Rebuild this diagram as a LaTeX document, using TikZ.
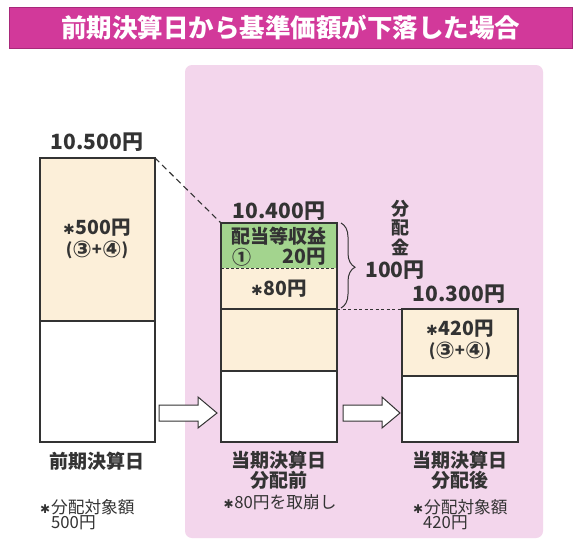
\documentclass[tikz,border=0pt]{standalone}
\usepackage{fontspec}
\setmainfont{Noto Sans CJK JP}
\newfontfamily\djv{DejaVu Sans}
\usetikzlibrary{decorations.pathreplacing}
\definecolor{titlemag}{HTML}{D2399A}
\definecolor{titleedge}{HTML}{A8287A}
\definecolor{panelpink}{HTML}{F3D6EC}
\definecolor{beige}{HTML}{FCEFD9}
\definecolor{grn}{HTML}{A3D48E}
\definecolor{ink}{HTML}{333333}
\newcommand{\lowstar}{{\djv\scalebox{0.72}{✱}}\kern0.05em}
\newcommand{\cthree}{\raisebox{-0.14em}{\scalebox{1.4}{\djv ③}}}
\newcommand{\cfour}{\raisebox{-0.14em}{\scalebox{1.4}{\djv ④}}}
\begin{document}
\begin{tikzpicture}[x=1pt,y=-1pt,
  sec/.style={inner sep=0pt, outer sep=0pt, anchor=north west},
  outline/.style={draw=ink, line width=1.1pt},
  lbl/.style={inner sep=0pt, text=ink, font=\fontsize{19}{21}\selectfont\bfseries, align=center},
  num/.style={inner sep=0pt, text=ink, font=\fontsize{21}{23}\selectfont\bfseries},
  inum/.style={inner sep=0pt, text=ink, font=\fontsize{19.5}{22}\selectfont\bfseries},
  paren/.style={inner sep=0pt, text=ink, font=\fontsize{16.5}{18}\selectfont\bfseries},
  note/.style={inner sep=0pt, text=ink, font=\fontsize{16.7}{18}\selectfont, align=left},
  hollowarrow/.style={fill=white, draw=ink, line width=1pt, line join=miter}
]
\useasboundingbox (0,0) rectangle (578,541);
\fill[white] (0,0) rectangle (578,541);

% title bar
\node[fill=titlemag, draw=titleedge, line width=0.8pt, minimum width=563pt, minimum height=41pt,
      inner sep=0pt, text=white, font=\fontsize{25.5}{27}\selectfont\bfseries] (title) at (290.5,27.5)
      {前期決算日から基準価額が下落した場合};

% pink panel
\fill[panelpink, rounded corners=7pt] (185,65) rectangle (543,538);

% ---- box 1
\node[sec, fill=beige, minimum width=115pt, minimum height=163pt] (b1t) at (40,158) {};
\node[sec, fill=white, minimum width=115pt, minimum height=121pt] (b1b) at (40,321) {};
\draw[outline] (b1t.north west) rectangle (b1b.south east);
\draw[outline] (b1t.south west) -- (b1t.south east);

% ---- box 2
\node[sec, fill=grn, minimum width=116pt, minimum height=45pt] (b2g) at (221,223) {};
\node[sec, fill=beige, minimum width=116pt, minimum height=41pt] (b2m) at (221,268) {};
\node[sec, fill=beige, minimum width=116pt, minimum height=62pt] (b2c) at (221,309) {};
\node[sec, fill=white, minimum width=116pt, minimum height=71pt] (b2w) at (221,371) {};
\draw[outline] (b2g.north west) rectangle (b2w.south east);
\draw[outline, line width=0.9pt, dash pattern=on 3pt off 2pt] (b2g.south west) -- (b2g.south east);
\draw[outline] (b2m.south west) -- (b2m.south east);
\draw[outline] (b2c.south west) -- (b2c.south east);

% ---- box 3
\node[sec, fill=beige, minimum width=116pt, minimum height=67pt] (b3t) at (402,309) {};
\node[sec, fill=white, minimum width=116pt, minimum height=66pt] (b3b) at (402,376) {};
\draw[outline] (b3t.north west) rectangle (b3b.south east);
\draw[outline] (b3t.south west) -- (b3t.south east);

% dashed connectors
\draw[ink, line width=1.1pt, dash pattern=on 6pt off 4pt] (b1t.north east) -- (b2g.north west);
\draw[ink, line width=1pt, dash pattern=on 3pt off 2.5pt] (b2m.south east) -- (b3t.north west);

% brace
\draw[ink, line width=1pt, decorate, decoration={brace, amplitude=14pt, aspect=0.52}]
  (341,223) -- (341,308);

% hollow arrows
\draw[hollowarrow] (159,405) -- (198,405) -- (198,397) -- (217,413) -- (198,428) -- (198,421) -- (159,421) -- cycle;
\draw[hollowarrow] (343,405) -- (382,405) -- (382,397) -- (400,413) -- (382,428) -- (382,421) -- (343,421) -- cycle;

% labels box 1
\node[num] (v1) at (97,142) {10.500円};
\node[inum] (a1) at (97,228) {\lowstar{}500円};
\node[paren] (p1) at (97,250) {(\cthree{}+\cfour{})};

% labels box 2
\node[num] (v2) at (279,211) {10.400円};
\node[lbl] (inc) at (279,236) {配当等収益};
\node[lbl] (c1) at (242,257) {①};
\node[inum, anchor=east] (y20) at (326,257) {20円};
\node[inum] (a2) at (279,289) {\lowstar{}80円};

% distribution
\node[num] (d100) at (395,270) {100円};
\node[lbl, font=\fontsize{18}{20}\selectfont\bfseries] (bun) at (400,209) {分};
\node[lbl, font=\fontsize{18}{20}\selectfont\bfseries] (hai) at (400,228) {配};
\node[lbl, font=\fontsize{18}{20}\selectfont\bfseries] (kin) at (400,247) {金};

% labels box 3
\node[num] (v3) at (459,294) {10.300円};
\node[inum] (a3) at (460,329) {\lowstar{}420円};
\node[paren] (p3) at (460,351) {(\cthree{}+\cfour{})};

% bottom captions
\node[lbl] (cap1) at (97,461) {前期決算日};
\node[lbl] (cap2) at (279,470) {当期決算日\\[-1pt]分配前};
\node[lbl] (cap3) at (460,470) {当期決算日\\[-1pt]分配後};

\node[note, anchor=west] (n1) at (40,507) {\lowstar{}分配対象額};
\node[note, anchor=west] (n1b) at (51,523) {500円};
\node[note] (n2) at (280,502) {\lowstar{}80円を取崩し};
\node[note, anchor=west] (n3) at (413,507) {\lowstar{}分配対象額};
\node[note, anchor=west] (n3b) at (423,523) {420円};
\end{tikzpicture}
\end{document}
